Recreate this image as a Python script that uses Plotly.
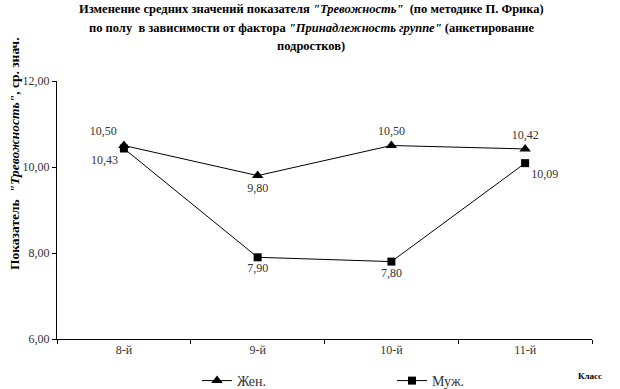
import plotly.graph_objects as go

categories = ["8-й", "9-й", "10-й", "11-й"]
female = [10.50, 9.80, 10.50, 10.42]
male = [10.43, 7.90, 7.80, 10.09]
female_pos = ["top left", "bottom center", "top center", "top center"]
male_pos = ["bottom left", "bottom center", "bottom center", "bottom right"]
y_ticks = [6, 8, 10, 12]

FONT = "Liberation Serif, DejaVu Serif, serif"

W, H = 620, 389
L, R, T, B = 57, 592, 81, 339  # plot area in pixels


def px(x):
    return (x - L) / (R - L)


def py(y):
    return (B - y) / (B - T)


fig = go.Figure()
fig.add_trace(go.Scatter(
    x=categories, y=female, name="Жен.", mode="lines+markers+text",
    line=dict(color="black", width=1),
    marker=dict(symbol="triangle-up", size=10, color="black"),
    text=female, texttemplate="%{y:.2f}", textposition=female_pos,
    textfont=dict(family=FONT, size=12, color="#333333"),
))
fig.add_trace(go.Scatter(
    x=categories, y=male, name="Муж.", mode="lines+markers+text",
    line=dict(color="black", width=1),
    marker=dict(symbol="square", size=8, color="black"),
    text=male, texttemplate="%{y:.2f}", textposition=male_pos,
    textfont=dict(family=FONT, size=12, color="#333333"),
))

title_lines = [
    ("<b>Изменение средних значений показателя <i>\"Тревожность\"</i>  (по методике П. Фрика)</b>", 311, 9),
    ("<b>по полу  в зависимости от фактора <i>\"Принадлежность группе\"</i> (анкетирование</b>", 311, 28),
    ("<b>подростков)</b>", 311, 46),
]
annotations = []
for txt, xp, yp in title_lines:
    annotations.append(dict(
        text=txt, xref="paper", yref="paper", x=px(xp), y=py(yp),
        xanchor="center", yanchor="middle", showarrow=False,
        font=dict(family=FONT, size=12.5, color="black"),
    ))
annotations.append(dict(
    text="<b>Показатель  <i>\"Тревожность\"</i>, ср. знач.</b>",
    xref="paper", yref="paper", x=px(14), y=py(154),
    xanchor="center", yanchor="middle", textangle=-90, showarrow=False,
    font=dict(family=FONT, size=13.5, color="black"),
))
annotations.append(dict(
    text="<b>Класс</b>", xref="paper", yref="paper", x=px(590), y=py(376),
    xanchor="center", yanchor="middle", showarrow=False,
    font=dict(family=FONT, size=9, color="black"),
))

fig.update_layout(
    width=W, height=H,
    margin=dict(l=L, r=W - R, t=T, b=H - B, autoexpand=False),
    paper_bgcolor="white", plot_bgcolor="white",
    separators=", ",
    font=dict(family=FONT, size=11, color="#333333"),
    showlegend=True,
    legend=dict(
        orientation="h", x=px(197), y=py(381),
        xanchor="left", yanchor="middle", entrywidth=150, entrywidthmode="pixels",
        font=dict(family=FONT, size=14, color="#333333"),
        bgcolor="rgba(0,0,0,0)", itemwidth=30,
    ),
    annotations=annotations,
    xaxis=dict(
        range=[-0.5, 3.5],
        showline=True, linecolor="black", linewidth=1, showgrid=False,
        ticks="outside", tickson="boundaries", ticklen=4, tickcolor="black",
        tickfont=dict(family=FONT, size=12, color="#333333"),
        zeroline=False, automargin=False,
    ),
    yaxis=dict(
        range=[6, 12], tickvals=y_ticks, tickformat=".2f",
        showline=True, linecolor="black", linewidth=1, showgrid=False,
        ticks="outside", ticklen=4, tickcolor="black",
        tickfont=dict(family=FONT, size=12, color="#333333"),
        zeroline=False, automargin=False,
    ),
)

fig.write_html("out.html", config={"displayModeBar": False},
               post_script="document.body.style.margin='0px';")
